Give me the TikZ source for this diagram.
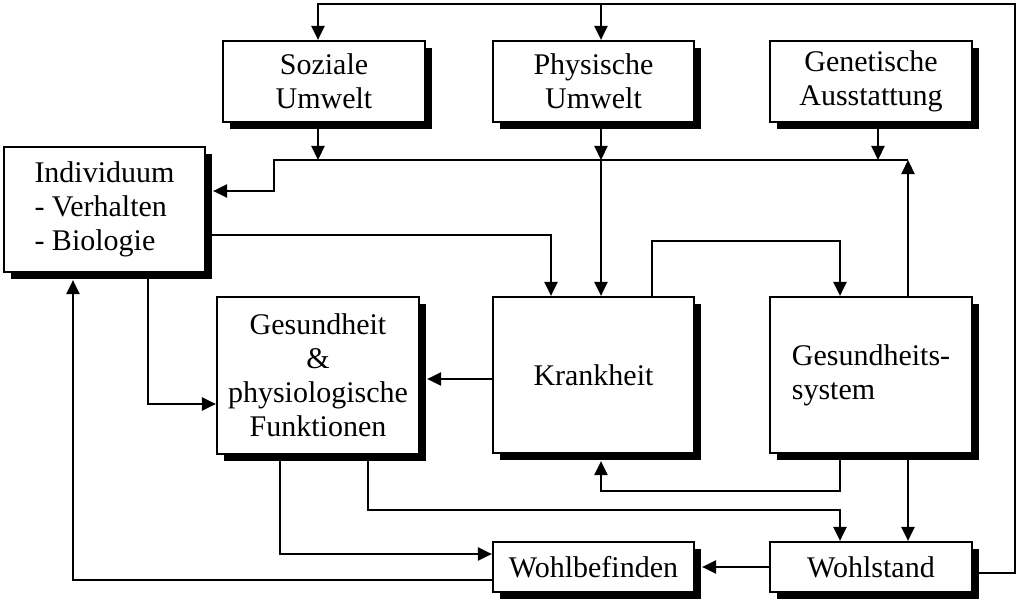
\documentclass[tikz,border=0pt]{standalone}
\usepackage{fontspec}
\setmainfont{Liberation Serif}
\usetikzlibrary{arrows.meta,shadows,calc,backgrounds}
\begin{document}
\begin{tikzpicture}[x=1pt,y=-1pt,
  box/.style={draw=black,line width=2.2pt,fill=white,rectangle,inner sep=0pt,
    align=center,font=\fontsize{30}{34}\selectfont,
    drop shadow={shadow xshift=7pt,shadow yshift=-7pt,fill=black,opacity=1}},
  arr/.style={line width=2.2pt,-{Triangle[length=14pt,width=13pt]}},
  ln/.style={line width=2.2pt}]
\useasboundingbox (0,0) rectangle (1017,599);
% boxes
\node[box,minimum width=202pt,minimum height=81pt] (soz) at (324,81.5) {Soziale\\Umwelt};
\node[box,minimum width=201pt,minimum height=81pt] (phy) at (593.5,81.5) {Physische\\Umwelt};
\node[box,minimum width=202pt,minimum height=81pt] (gen) at (871,81.5) {Genetische\\Ausstattung};
\node[box,minimum width=201pt,minimum height=125pt,align=left] (ind) at (104.5,209.5) {Individuum\\- Verhalten\\- Biologie};
\node[box,minimum width=202pt,minimum height=157pt] (ges) at (318,375.5) {Gesundheit\\\&\\physiologische\\Funktionen};
\node[box,minimum width=201pt,minimum height=156pt] (kra) at (593.5,375) {Krankheit};
\node[box,minimum width=202pt,minimum height=156pt,align=left] (sys) at (871,375) {Gesundheits-\\system};
\node[box,minimum width=201pt,minimum height=50pt] (wbf) at (593.5,567) {Wohlbefinden};
\node[box,minimum width=202pt,minimum height=50pt] (wst) at (871,567) {Wohlstand};
% guide coordinates
\coordinate (xa) at (318,0);
\coordinate (xb) at (601,0);
\coordinate (xc) at (878,0);
\coordinate (xd) at (908,0);
\coordinate (xe) at (274,0);
\coordinate (xf) at (551,0);
\coordinate (xg) at (652,0);
\coordinate (xh) at (840,0);
\coordinate (xi) at (148,0);
\coordinate (xj) at (73,0);
\coordinate (xk) at (280,0);
\coordinate (xl) at (368,0);
\coordinate (xr) at (1015,0);
\coordinate (ytop) at (0,4);
\coordinate (ybus) at (0,160);
\coordinate (y191) at (0,191);
\coordinate (y235) at (0,235);
\coordinate (y241) at (0,241);
\coordinate (y379) at (0,379);
\coordinate (y404) at (0,404);
\coordinate (y491) at (0,491);
\coordinate (y510) at (0,510);
\coordinate (y554) at (0,554);
\coordinate (y567) at (0,567);
\coordinate (y573) at (0,573);
\coordinate (y580) at (0,580);
\coordinate (sh) at (7,0);
\coordinate (sv) at (0,7);
% connectors (behind boxes)
\begin{scope}[on background layer]
\draw[arr] (wst.east |- y573) -| (xr |- ytop) -| (soz.north -| xa);
\draw[arr] (xb |- ytop) -- (phy.north -| xb);
\draw[arr] (soz.south -| xa) -- (xa |- ybus);
\draw[arr] (phy.south -| xb) -- (xb |- ybus);
\draw[arr] (xb |- ybus) -- (kra.north -| xb);
\draw[arr] (gen.south -| xc) -- (xc |- ybus);
\draw[arr] (xd |- ybus) -| (xe |- y191) -- ($(ind.east |- y191)+(sh)$);
\draw[arr] (sys.north -| xd) -- (xd |- ybus);
\draw[arr] (ind.east |- y235) -| (kra.north -| xf);
\draw[arr] (kra.north -| xg) |- (xh |- y241) -- (sys.north -| xh);
\draw[arr] (ind.south -| xi) |- (ges.west |- y404);
\draw[arr] (wbf.west |- y580) -| ($(ind.south -| xj)+(sv)$);
\draw[arr] (kra.west |- y379) -- ($(ges.east |- y379)+(sh)$);
\draw[arr] (ges.south -| xk) |- (wbf.west |- y554);
\draw[arr] (ges.south -| xl) |- (xh |- y510) -- (wst.north -| xh);
\draw[arr] (sys.south -| xh) |- (xb |- y491) -- ($(kra.south -| xb)+(sv)$);
\draw[arr] (sys.south -| xd) -- (wst.north -| xd);
\draw[arr] (wst.west |- y567) -- ($(wbf.east |- y567)+(sh)$);
\end{scope}
\end{tikzpicture}
\end{document}
